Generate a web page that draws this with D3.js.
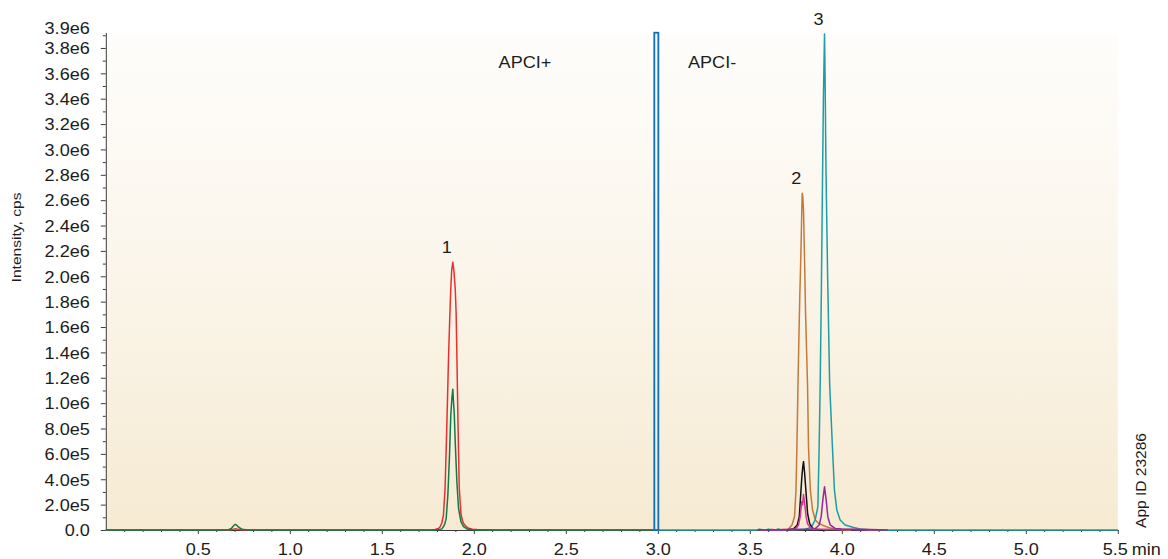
<!DOCTYPE html>
<html>
<head>
<meta charset="utf-8">
<script src="https://cdn.jsdelivr.net/npm/d3@7/dist/d3.min.js"></script>
<style>
  html, body { margin: 0; padding: 0; background: #ffffff; }
  svg { display: block; font-family: "Liberation Sans", Arial, Helvetica, sans-serif; }
</style>
</head>
<body>
<svg id="chart" width="1168" height="559"></svg>
<script>
// ---- Extracted ion chromatograms: [retention time (min), intensity (cps)] ----

// APCI+ period
const traceRed = [
  [0, 0], [0.67, 0], [0.69, 5000], [0.705, 9000], [0.72, 5000], [0.75, 0],
  [1.77, 0], [1.790, 5000], [1.808, 12000], [1.817, 26000], [1.826, 55000], [1.835, 118000],
  [1.844, 329000], [1.854, 854000], [1.863, 1380000], [1.870, 1700000], [1.875, 1906000],
  [1.880, 2050000], [1.886, 2111000], [1.892, 2040000], [1.899, 1906000], [1.904, 1710000],
  [1.908, 1380000], [1.914, 854000], [1.921, 329000], [1.930, 130000], [1.937, 80000],
  [1.944, 53000], [1.958, 28000], [1.972, 13000], [1.993, 6000], [2.017, 3000], [2.06, 1000],
  [2.11, 0], [2.981, 0]
];
const traceGreen = [
  [0, 0], [0.62, 0], [0.667, 2000], [0.682, 12000], [0.692, 30000], [0.703, 45000],
  [0.712, 38000], [0.722, 22000], [0.737, 9000], [0.752, 3000], [0.772, 500], [0.81, 0],
  [1.79, 0], [1.813, 3000], [1.827, 9000], [1.835, 26000], [1.843, 50000], [1.850, 92000],
  [1.859, 276000], [1.868, 590000], [1.875, 907000], [1.881, 1040000], [1.886, 1110000],
  [1.890, 1000000], [1.894, 907000], [1.899, 696000], [1.908, 381000], [1.917, 171000],
  [1.930, 66000], [1.944, 26000], [1.963, 8000], [1.99, 2000], [2.03, 0], [2.981, 0]
];

// APCI- period
const traceOrange = [
  [3.62, 0], [3.70, 3000], [3.711, 10000], [3.729, 40000], [3.743, 105000], [3.751, 315000],
  [3.756, 657000], [3.762, 1157000], [3.767, 1525000], [3.772, 1860000], [3.778, 2195000],
  [3.783, 2550000], [3.785, 2655000], [3.788, 2630000], [3.792, 2520000], [3.798, 2100000],
  [3.803, 1710000], [3.814, 1130000], [3.819, 657000], [3.829, 315000], [3.841, 158000],
  [3.856, 79000], [3.872, 55000], [3.892, 40000], [3.928, 20000], [3.96, 8000], [4.0, 2000],
  [4.05, 0]
];
const traceTeal = [
  [3.003, 0], [3.54, 0], [3.552, 6000], [3.56, 1000], [3.585, 0], [3.60, 7000], [3.61, 2000],
  [3.63, 0], [3.645, 5000], [3.655, 9000], [3.665, 2000], [3.69, 0], [3.715, 4000], [3.73, 1000],
  [3.76, 3000], [3.80, 6000], [3.82, 14000], [3.837, 30000], [3.855, 79000], [3.870, 184000],
  [3.877, 657000], [3.883, 1200000], [3.889, 1900000], [3.894, 2600000], [3.900, 3400000],
  [3.906, 3910000], [3.909, 3600000], [3.914, 2840000], [3.923, 2000000], [3.934, 1150000],
  [3.949, 657000], [3.960, 315000], [3.973, 158000], [3.991, 79000], [4.018, 40000],
  [4.064, 20000], [4.10, 8000], [4.15, 2000], [4.2, 0], [5.5, 0]
];
const traceBlack = [
  [3.70, 0], [3.738, 10000], [3.758, 40000], [3.769, 105000], [3.776, 263000], [3.783, 420000],
  [3.788, 500000], [3.792, 539000], [3.798, 447000], [3.806, 289000], [3.814, 130000],
  [3.825, 53000], [3.841, 15000], [3.87, 3000], [3.90, 0]
];
const traceMagenta = [
  [3.62, 0], [3.68, 3000], [3.72, 5000], [3.75, 8000], [3.765, 40000], [3.774, 105000],
  [3.780, 190000], [3.783, 223000], [3.787, 200000], [3.792, 280000], [3.798, 210000],
  [3.806, 105000], [3.814, 47000], [3.832, 15000], [3.86, 8000], [3.90, 6000], [3.95, 5000],
  [4.0, 4000], [4.1, 3000], [4.2, 0]
];
const tracePurple = [
  [3.54, 0], [3.56, 3000], [3.58, 0], [3.62, 4000], [3.65, 0], [3.70, 2000], [3.75, 4000],
  [3.80, 6000], [3.83, 5000], [3.855, 10000], [3.877, 40000], [3.888, 105000], [3.897, 237000],
  [3.906, 341000], [3.915, 237000], [3.924, 105000], [3.937, 40000], [3.964, 12000],
  [4.0, 7000], [4.05, 5000], [4.1, 4000], [4.15, 3000], [4.2, 2000], [4.25, 0]
];

// Drawing order and colours of the traces
const traces = [traceRed, traceGreen, traceOrange, traceTeal, traceBlack, traceMagenta, tracePurple];
const traceColors = ["#ea2f30", "#0f7b45", "#c4793d", "#1c9ea4", "#111111", "#df3199", "#8d2b9e"];

// Peak numbering (apex time, apex intensity)
const peakLabels = ["1", "2", "3"];
const peakTimes = [1.886, 3.785, 3.906];
const peakHeights = [2111000, 2655000, 3910000];

// Ionisation period switch at 3.0 min and period names
const periodSwitch = [2.981, 3.003];
const periodTop = 3.92e6;
const periodNames = ["APCI+", "APCI-"];
const periodNameTimes = [2.278, 3.295];
const periodNameLevel = 3.64e6;

// Axis ticks
const xTickValues = [0.5, 1.0, 1.5, 2.0, 2.5, 3.0, 3.5, 4.0, 4.5, 5.0, 5.5];
const xTickLabels = ["0.5", "1.0", "1.5", "2.0", "2.5", "3.0", "3.5", "4.0", "4.5", "5.0", "5.5"];
const yTickValues = [0, 2e5, 4e5, 6e5, 8e5, 1.0e6, 1.2e6, 1.4e6, 1.6e6, 1.8e6, 2.0e6,
                     2.2e6, 2.4e6, 2.6e6, 2.8e6, 3.0e6, 3.2e6, 3.4e6, 3.6e6, 3.8e6];
const yTickLabels = ["0.0", "2.0e5", "4.0e5", "6.0e5", "8.0e5", "1.0e6", "1.2e6", "1.4e6",
                     "1.6e6", "1.8e6", "2.0e6", "2.2e6", "2.4e6", "2.6e6", "2.8e6", "3.0e6",
                     "3.2e6", "3.4e6", "3.6e6", "3.8e6"];
const yMaxLabel = "3.9e6";
const yMax = 3.91e6;

// ---- Layout ----
const svg = d3.select("#chart");
const plotLeft = 105.8, plotRight = 1117.8, plotTop = 34, plotBottom = 530;
const x = d3.scaleLinear().domain([0, 5.5]).range([plotLeft, plotRight]);
const y = d3.scaleLinear().domain([0, yMax]).range([plotBottom, plotTop]);
const textColor = "#1c1c1c";
const axisColor = "#3c3c3c";
const stretch = 1.13;

// Plot background: pale cream fading to beige at the baseline
const defs = svg.append("defs");
const grad = defs.append("linearGradient").attr("id", "plotBg")
  .attr("x1", 0).attr("y1", 0).attr("x2", 0).attr("y2", 1);
grad.append("stop").attr("offset", "0%").attr("stop-color", "#fefdfb");
grad.append("stop").attr("offset", "45%").attr("stop-color", "#fbf6ec");
grad.append("stop").attr("offset", "100%").attr("stop-color", "#f6ead2");
svg.append("rect")
  .attr("x", plotLeft).attr("y", plotTop - 1)
  .attr("width", plotRight - plotLeft).attr("height", plotBottom - plotTop + 1)
  .attr("fill", "url(#plotBg)");

// ---- Y axis ----
const yAxisG = svg.append("g").attr("transform", `translate(${plotLeft},0)`);
yAxisG.call(d3.axisLeft(y).tickValues(yTickValues)
  .tickFormat((d, i) => yTickLabels[i]).tickSize(5).tickSizeOuter(0));
yAxisG.select(".domain").attr("stroke", axisColor).attr("d", `M0.5,${plotBottom}V${plotTop - 1}`);
yAxisG.selectAll(".tick line").attr("stroke", axisColor);
yAxisG.selectAll(".tick text")
  .attr("x", null).attr("dy", "0.36em")
  .attr("transform", `translate(-16,0) scale(${stretch},1)`)
  .attr("font-size", 16).attr("fill", textColor)
  .attr("font-family", "'Liberation Sans', Arial, Helvetica, sans-serif");

const yMinor = svg.append("g").attr("transform", `translate(${plotLeft},0)`);
yMinor.call(d3.axisLeft(y).tickValues(d3.range(1e5, 3.95e6, 2e5)).tickFormat("").tickSize(3).tickSizeOuter(0));
yMinor.select(".domain").remove();
yMinor.selectAll(".tick line").attr("stroke", axisColor);

svg.append("text")
  .attr("transform", `translate(${plotLeft - 16},${y(yMax) - 6}) scale(${stretch},1)`)
  .attr("text-anchor", "end").attr("dy", "0.36em")
  .attr("font-size", 16).attr("fill", textColor)
  .text(yMaxLabel);

// ---- X axis ----
const xAxisG = svg.append("g").attr("transform", `translate(0,${plotBottom})`);
xAxisG.call(d3.axisBottom(x).tickValues(xTickValues)
  .tickFormat((d, i) => xTickLabels[i]).tickSize(4).tickSizeOuter(0));
xAxisG.select(".domain").attr("stroke", axisColor);
xAxisG.selectAll(".tick line").attr("stroke", axisColor);
xAxisG.selectAll(".tick text")
  .attr("y", null).attr("dy", null)
  .attr("transform", (d, i) => `translate(${i === xTickValues.length - 1 ? -3 : 0},25) scale(${stretch},1)`)
  .attr("font-size", 16).attr("fill", textColor)
  .attr("font-family", "'Liberation Sans', Arial, Helvetica, sans-serif");

const xMinor = svg.append("g").attr("transform", `translate(0,${plotBottom})`);
xMinor.call(d3.axisBottom(x)
  .tickValues(d3.range(1, 55).filter(k => k % 5 !== 0).map(k => k / 10))
  .tickFormat("").tickSize(2).tickSizeOuter(0));
xMinor.select(".domain").remove();
xMinor.selectAll(".tick line").attr("stroke", axisColor);

svg.append("text")
  .attr("transform", `translate(${x(5.5) + 14},${plotBottom + 25}) scale(${stretch},1)`)
  .attr("font-size", 16).attr("fill", textColor)
  .text("min");

// ---- Traces ----
const line = d3.line().x(d => x(d[0])).y(d => y(d[1]));
svg.append("g").selectAll("path")
  .data(traces)
  .join("path")
  .attr("d", line)
  .attr("fill", "none")
  .attr("stroke", (d, i) => traceColors[i])
  .attr("stroke-width", 1.5)
  .attr("stroke-linejoin", "round");

// Period switch marker
svg.append("rect")
  .attr("x", x(periodSwitch[0])).attr("y", y(periodTop))
  .attr("width", x(periodSwitch[1]) - x(periodSwitch[0]))
  .attr("height", y(0) - y(periodTop))
  .attr("fill", "none").attr("stroke", "#0c6fc1").attr("stroke-width", 1.8);

// Period names
svg.append("g").selectAll("text")
  .data(periodNames)
  .join("text")
  .attr("transform", (d, i) => `translate(${x(periodNameTimes[i])},${y(periodNameLevel)}) scale(${stretch},1)`)
  .attr("text-anchor", "middle")
  .attr("font-size", 16).attr("fill", textColor)
  .text(d => d);

// Peak numbers above each apex
svg.append("g").selectAll("text")
  .data(peakLabels)
  .join("text")
  .attr("transform", (d, i) => `translate(${x(peakTimes[i]) - 6},${y(peakHeights[i]) - 9}) scale(${stretch},1)`)
  .attr("text-anchor", "middle")
  .attr("font-size", 16).attr("fill", textColor)
  .text(d => d);

// Axis title
svg.append("text")
  .attr("transform", `translate(21,237.5) rotate(-90) scale(1.25,1)`)
  .attr("text-anchor", "middle")
  .attr("font-size", 12.5).attr("fill", textColor)
  .text("Intensity, cps");

// Application identifier
svg.append("text")
  .attr("transform", `translate(1146,480.5) rotate(-90)`)
  .attr("text-anchor", "middle")
  .attr("font-size", 15.5).attr("fill", textColor)
  .text("App ID 23286");
</script>
</body>
</html>
